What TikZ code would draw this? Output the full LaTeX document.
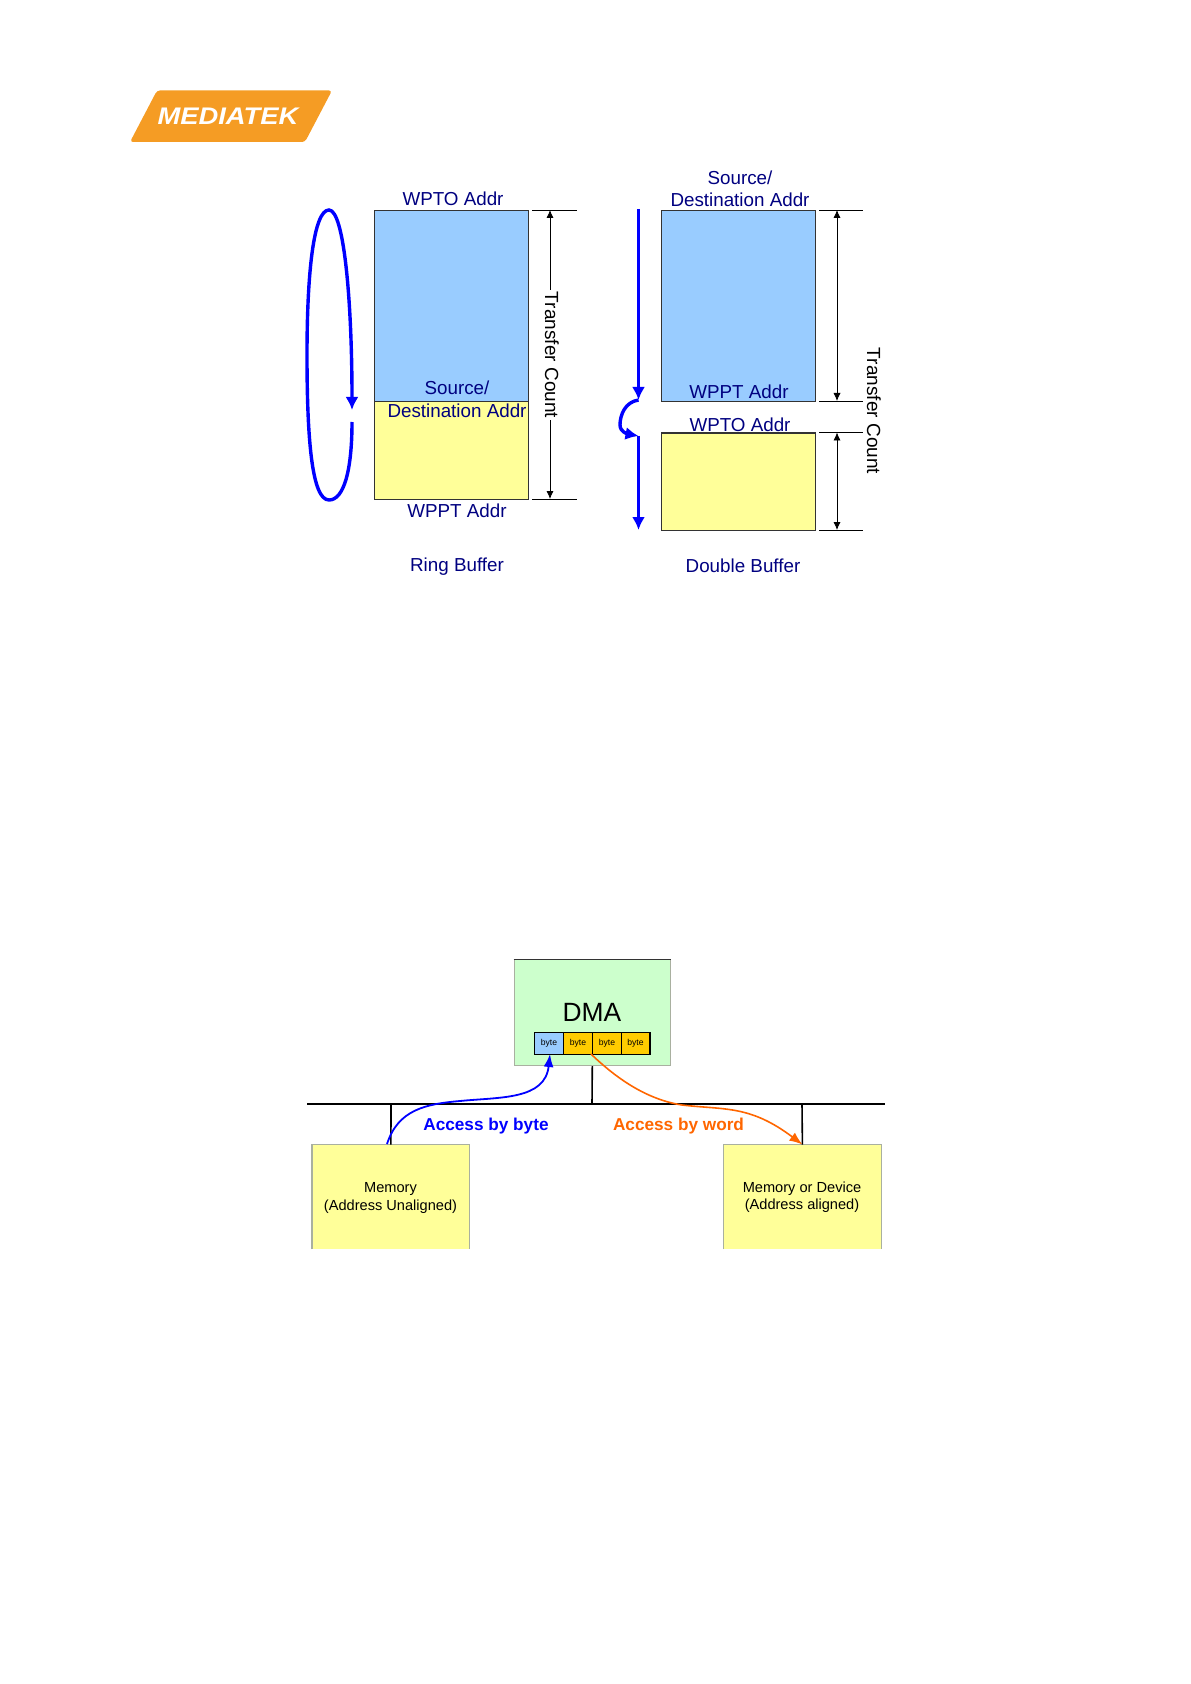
\documentclass[tikz,border=0pt]{standalone}
\usepackage{fontspec}
\usetikzlibrary{arrows.meta}
\setmainfont{Liberation Sans}
\definecolor{logoOrange}{HTML}{F59C24}
\definecolor{addrNavy}{HTML}{000080}
\definecolor{bufBlue}{HTML}{99CCFF}
\definecolor{bufYellow}{HTML}{FFFF99}
\definecolor{dmaGreen}{HTML}{CCFFCC}
\definecolor{byteGold}{HTML}{FFCC00}
\definecolor{wordOrange}{HTML}{FF6600}
\definecolor{edgeGray}{HTML}{A9B0A0}
\tikzset{
  buf/.style={draw=black!80,line width=0.6pt,inner sep=0pt,anchor=north west},
  addr/.style={text=addrNavy,font=\fontsize{9.4}{11}\selectfont,inner sep=0pt},
  count/.style={font=\fontsize{9.5}{11}\selectfont,inner sep=1pt,rotate=-90},
  flow/.style={draw=blue,line width=1.7pt,-{Latex[length=6.5pt,width=6.5pt]}},
  dim/.style={draw=black,line width=0.4pt},
  dimtip/.style={{Latex[length=4pt,width=3.6pt]}-{Latex[length=4pt,width=3.6pt]}},
  plain/.style={fill=bufYellow,inner sep=0pt,anchor=north west,minimum width=79pt,minimum height=52pt},
  bytecell/.style={draw=black,line width=0.6pt,inner sep=0pt,anchor=north west,minimum width=14.4pt,minimum height=10.8pt,font=\fontsize{4.3}{5}\selectfont},
  memtext/.style={font=\fontsize{7.3}{8.6}\selectfont,align=center,inner sep=0pt},
  access/.style={font=\fontsize{8.6}{10}\selectfont\bfseries,inner sep=0pt}
}
\begin{document}
\begin{tikzpicture}[x=0.5pt,y=-0.5pt]
\useasboundingbox (0,0) rectangle (1190,1684);

% Logo
\fill[logoOrange,rounded corners=1.5pt] (157,90.5) -- (332,90.5) -- (305,142) -- (130,142) -- cycle;
\node[text=white,font=\fontsize{12}{14}\selectfont\bfseries\itshape,inner sep=0pt,xscale=1.14] (logoText) at (228,116.5) {MEDIATEK};

% Ring buffer
\node[buf,fill=bufBlue,minimum width=77pt,minimum height=95.5pt] (ringBlue) at (373.5,210) {};
\node[buf,fill=bufYellow,minimum width=77pt,minimum height=49pt] (ringYellow) at (373.5,401) {};
\node[addr] (ringWpto) at (453,199) {WPTO Addr};
\node[addr] (ringSource) at (457,388) {Source/};
\node[addr] (ringDest) at (457,411) {Destination Addr};
\node[addr] (ringWppt) at (457,511) {WPPT Addr};
\node[addr] (ringTitle) at (457,567) {Ring Buffer};

% Ring loop
\coordinate (loopEnd) at (352,410);
\coordinate (loopStart) at (352,422);
\coordinate (loopTop) at (329,210);
\coordinate (loopBottom) at (329,500);
\draw[flow] (loopStart) .. controls (352,470) and (344,500) .. (loopBottom)
  .. controls (312,500) and (307,440) .. (307,355)
  .. controls (307,270) and (314,210) .. (loopTop)
  .. controls (344,210) and (352,300) .. (loopEnd);

% Ring count
\coordinate (ringTopA) at (532,210);
\coordinate (ringTopB) at (577,210);
\coordinate (ringLowA) at (532,499);
\coordinate (ringLowB) at (577,499);
\coordinate (ringTopArrow) at (550,210);
\coordinate (ringLowArrow) at (550,499);
\draw[dim] (ringTopA) -- (ringTopB);
\draw[dim] (ringLowA) -- (ringLowB);
\node[count] (ringCount) at (552,355) {Transfer Count};
\draw[dim,-{Latex[length=4pt,width=3.6pt]}] (ringCount.west -| ringTopArrow) -- (ringTopArrow);
\draw[dim,-{Latex[length=4pt,width=3.6pt]}] (ringCount.east -| ringLowArrow) -- (ringLowArrow);

% Double buffer
\node[buf,fill=bufBlue,minimum width=77pt,minimum height=95.5pt] (dblBlue) at (660.5,210) {};
\node[buf,fill=bufYellow,minimum width=77pt,minimum height=48.7pt] (dblYellow) at (660.5,432.5) {};
\node[addr] (dblSource) at (740,178) {Source/};
\node[addr] (dblDest) at (740,200) {Destination Addr};
\node[addr] (dblWppt) at (739,392) {WPPT Addr};
\node[addr] (dblWpto) at (740,425) {WPTO Addr};
\node[addr] (dblTitle) at (743,566) {Double Buffer};

% Double arrows
\coordinate (dblA) at (638.5,209);
\coordinate (dblB) at (638.5,400);
\coordinate (dblC) at (638.5,436);
\coordinate (dblD) at (638.5,530);
\draw[flow] (dblA) -- (dblB);
\draw[flow] (dblC) -- (dblD);
\draw[flow] (dblB) .. controls (625,402) and (620,415) .. (620,425)
  .. controls (620,432) and (628,434) .. (dblC);

% Double count
\foreach \yy/\nm in {210/a,401/b,432.5/c,530/d}{
  \coordinate (dblDimL\nm) at (819,\yy);
  \coordinate (dblDimR\nm) at (863,\yy);
  \coordinate (dblDimM\nm) at (837,\yy);
  \draw[dim] (dblDimL\nm) -- (dblDimR\nm);
}
\draw[dim,dimtip] (dblDimMa) -- (dblDimMb);
\draw[dim,dimtip] (dblDimMc) -- (dblDimMd);
\node[count] (dblCount) at (874,411) {Transfer Count};

% Bus
\coordinate (busL) at (307,1104);
\coordinate (busR) at (885,1104);
\coordinate (stubA) at (391,1104);
\coordinate (stubB) at (592,1104);
\coordinate (stubC) at (802,1104);
\draw[black,line width=0.8pt] (busL) -- (busR);

% DMA
\node[draw=edgeGray,line width=0.6pt,fill=dmaGreen,inner sep=0pt,anchor=north west,minimum width=78.2pt,minimum height=53pt] (dma) at (513.5,959) {};
\draw[black!80,line width=0.5pt] (dma.north west) -- (dma.north east);
\node[font=\fontsize{13.2}{14}\selectfont,inner sep=0pt] (dmaText) at (592,1012) {DMA};
\node[bytecell,fill=bufBlue] (byteA) at (534,1032) {byte};
\node[bytecell,fill=byteGold] (byteB) at (563,1032) {byte};
\node[bytecell,fill=byteGold] (byteC) at (592,1032) {byte};
\node[bytecell,fill=byteGold] (byteD) at (620.5,1032) {byte};
\draw[black,line width=0.8pt] (stubB) -- (dma.south);

% Memories
\node[plain,minimum width=78.5pt] (memL) at (312,1144.5) {};
\node[plain,minimum width=78.5pt] (memR) at (723.5,1144.5) {};
\draw[edgeGray,line width=0.6pt] (memL.south west) -- (memL.north west) -- (memL.north east) -- (memL.south east);
\draw[edgeGray,line width=0.6pt] (memR.south west) -- (memR.north west) -- (memR.north east) -- (memR.south east);
\node[memtext] (memLText) at (390.5,1198) {Memory\\(Address Unaligned)};
\node[memtext] (memRText) at (802,1197.5) {Memory or Device\\(Address aligned)};
\draw[black,line width=0.8pt] (stubA) -- (memL.north);
\draw[black,line width=0.8pt] (stubC) -- (memR.north);

% Access paths
\coordinate (byteTip) at (550,1054);
\coordinate (wordFrom) at (591,1054);
\coordinate (memLFrom) at (387,1144);
\draw[blue,line width=0.9pt,-{Latex[length=6.5pt,width=5pt]}] (memLFrom) .. controls (398,1110) and (425,1104) .. (460,1101)
  .. controls (500,1097) and (545,1100) .. (byteTip);
\draw[wordOrange,line width=0.8pt,-{Latex[length=6.5pt,width=5pt]}] (wordFrom) .. controls (620,1082) and (650,1100) .. (682,1105)
  .. controls (725,1110) and (750,1105) .. (memR.north);
\node[access,text=blue] (accByte) at (486,1126) {Access by byte};
\node[access,text=wordOrange] (accWord) at (678.5,1126) {Access by word};

\end{tikzpicture}
\end{document}
